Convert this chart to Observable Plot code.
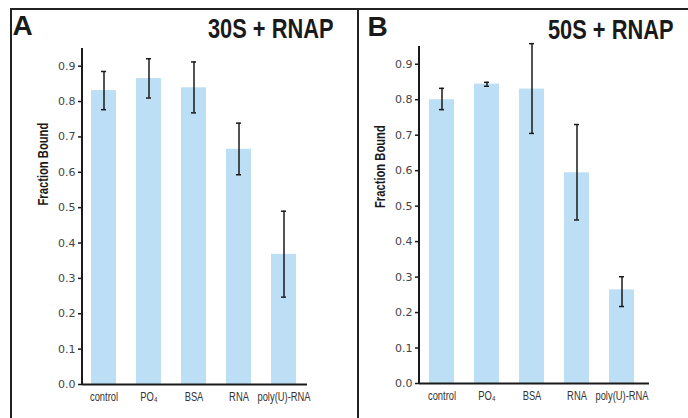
<!DOCTYPE html>
<html>
<head>
<meta charset="utf-8">
<script src="https://cdn.jsdelivr.net/npm/d3@7"></script>
<script src="https://cdn.jsdelivr.net/npm/@observablehq/plot@0.6"></script>
<style>
  html, body { margin: 0; padding: 0; background: #fff; }
  #fig { position: relative; width: 688px; height: 418px; overflow: hidden; background: #fff; }
  #fig .line { position: absolute; background: #222; }
  #fig svg { position: absolute; top: 0; }
</style>
</head>
<body>
<div id="fig">
  <div class="line" style="left:10px; top:8px; width:678px; height:2px;"></div>
  <div class="line" style="left:10px; top:8px; width:2px; height:410px;"></div>
  <div class="line" style="left:357px; top:8px; width:2px; height:410px;"></div>
</div>
<script>
// Binding treatments
const categories = ["control", "PO₄", "BSA", "RNA", "poly(U)-RNA"];

// 30S + RNAP: mean fraction bound and error-bar limits
const meanA = [0.831, 0.865, 0.839, 0.665, 0.368];
const lowA  = [0.777, 0.810, 0.768, 0.593, 0.247];
const highA = [0.885, 0.921, 0.912, 0.739, 0.490];

// 50S + RNAP: mean fraction bound and error-bar limits
const meanB = [0.800, 0.844, 0.830, 0.594, 0.264];
const lowB  = [0.772, 0.838, 0.705, 0.461, 0.217];
const highB = [0.832, 0.849, 0.958, 0.730, 0.301];

const yTicks = [0, 0.1, 0.2, 0.3, 0.4, 0.5, 0.6, 0.7, 0.8, 0.9];

const sans = "'Liberation Sans', Arial, sans-serif";
const barFill = "#bddff5";
const ink = "#1a1a1a";

// vertical axis line along the left edge of the frame
const yAxisLine = (index, scales, values, dims) =>
  d3.create("svg:line")
    .attr("x1", dims.marginLeft).attr("x2", dims.marginLeft)
    .attr("y1", dims.marginTop).attr("y2", dims.height - dims.marginBottom + 1)
    .attr("stroke", ink).attr("stroke-width", 2)
    .node();

function panel(mean, low, high, o) {
  const data = categories.map((c, i) => ({category: c, value: mean[i], low: low[i], high: high[i]}));
  const svg = Plot.plot({
    width: o.width,
    height: 418,
    marginLeft: o.marginLeft,
    marginRight: o.marginRight,
    marginTop: o.marginTop,
    marginBottom: o.marginBottom,
    style: {background: "transparent", overflow: "visible"},
    x: {domain: categories, range: o.xRange, paddingInner: 0.44, paddingOuter: 0.22, label: null},
    y: {domain: [0, 0.95], label: null},
    marks: [
      Plot.barY(data, {x: "category", y: "value", fill: barFill}),
      Plot.ruleX(data, {x: "category", y1: "low", y2: "high", stroke: ink, strokeWidth: 1.5}),
      Plot.tickY(data, {x: "category", y: "low", stroke: ink, strokeWidth: 1.5, inset: 10}),
      Plot.tickY(data, {x: "category", y: "high", stroke: ink, strokeWidth: 1.5, inset: 10}),
      Plot.ruleY([0], {stroke: ink, strokeWidth: 2}),
      yAxisLine,
      Plot.axisY({
        ticks: yTicks, tickFormat: d3.format(".1f"), tickSize: 4, tickPadding: 3,
        stroke: ink, strokeWidth: 1.5, fill: "#444",
        fontFamily: "'DejaVu Sans', sans-serif", fontSize: 11, label: null
      }),
      Plot.axisX({
        tickSize: 0, tickPadding: 8, fill: "#333",
        fontFamily: sans, fontSize: 12, label: null
      }),
      Plot.text(["Fraction Bound"], {
        frameAnchor: "left", rotate: -90, dx: -39, dy: o.labelDy,
        fontFamily: sans, fontWeight: "bold", fontSize: 14, fill: ink
      }),
      Plot.text([o.letter], {
        frameAnchor: "top-left", textAnchor: "start", lineAnchor: "top",
        dx: o.letterDx, dy: o.letterDy,
        fontFamily: sans, fontWeight: "bold", fontSize: 28, fill: ink
      }),
      Plot.text([o.title], {
        frameAnchor: "top-right", textAnchor: "end", lineAnchor: "top",
        dx: o.titleDx, dy: o.titleDy,
        fontFamily: sans, fontWeight: "bold", fontSize: 28, fill: ink
      })
    ]
  });
  svg.style.left = o.left + "px";
  return svg;
}

// narrow the condensed-style labels by compressing their glyphs horizontally
function condense(svg, widths) {
  svg.querySelectorAll("text").forEach((t) => {
    const f = widths.get(t.textContent);
    if (f) {
      t.setAttribute("textLength", (t.getComputedTextLength() * f).toFixed(1));
      t.setAttribute("lengthAdjust", "spacingAndGlyphs");
    }
  });
}

const fig = document.getElementById("fig");

const panelA = panel(meanA, lowA, highA, {
  left: 0, width: 358,
  marginLeft: 82, marginRight: 51, marginTop: 48, marginBottom: 34,
  xRange: [81, 306],
  labelDy: -11,
  letter: "A", letterDx: -70, letterDy: -33,
  title: "30S + RNAP", titleDx: 26, titleDy: -30
});

const panelB = panel(meanB, lowB, highB, {
  left: 358, width: 330,
  marginLeft: 61, marginRight: 39, marginTop: 46, marginBottom: 35,
  xRange: [60.25, 287.75],
  labelDy: -7,
  letter: "B", letterDx: -52, letterDy: -30,
  title: "50S + RNAP", titleDx: 24, titleDy: -27
});

fig.appendChild(panelA);
fig.appendChild(panelB);

const widths = new Map([
  ...categories.map((c) => [c, 0.78]),
  ["Fraction Bound", 0.8],
  ["30S + RNAP", 0.78],
  ["50S + RNAP", 0.78]
]);
condense(panelA, widths);
condense(panelB, widths);
</script>
</body>
</html>
